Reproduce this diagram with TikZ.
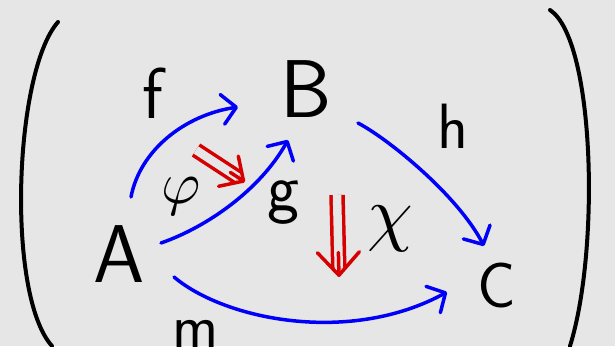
\documentclass[tikz,border=0pt]{standalone}
\usetikzlibrary{arrows.meta,calc}
\definecolor{bgc}{RGB}{230,230,230}
\definecolor{blu}{RGB}{0,0,250}
\definecolor{rd}{RGB}{214,0,0}
\begin{document}
\begin{tikzpicture}[x=1pt,y=-1pt,
  lbl/.style={inner sep=0pt, text=black},
  big/.style={font=\sffamily\fontsize{#1}{#1}\selectfont},
  mor/.style={draw=blu, line width=3.5pt, line cap=round,
    -{Straight Barb[length=14pt,width=30pt,round]}},
  cellline/.style={draw=rd, line width=3.5pt, double=bgc, double distance=8.5pt},
  cellhead/.style={draw=rd, line width=3.5pt, line cap=round,
    -{Straight Barb[length=18pt,width=36pt,round]}},
  paren/.style={draw=black, line width=4pt, line cap=round}]
\fill[bgc] (0,0) rectangle (615,346);
\useasboundingbox (0,0) rectangle (615,346);
% parentheses
\draw[paren] (58,22) .. controls (14,72) and (6,295) .. (52,346);
\draw[paren] (550,10) .. controls (595,40) and (600,250) .. (570,346);
% objects
\node[lbl, big=82] (A) at (119,254) {A};
\node[lbl, big=82] (B) at (306,89) {B};
\node[lbl, big=64] (C) at (497,286) {C};
% labels
\node[lbl, big=72] (f) at (153,93) {f};
\node[lbl, big=68] (g) at (283,203) {g};
\node[lbl, big=64] (h) at (453,126) {h};
\node[lbl, big=62] (m) at (196,334) {m};
\node[lbl, scale=6] (phi) at (181,196) {$\varphi$};
\node[lbl, scale=7.3] (chi) at (390,229) {$\chi$};
% morphisms
\draw[mor] ($(A)+(12,-57)$) .. controls (140,150) and (185,115) .. ($(B)+(-68,18)$);
\draw[mor] ($(A)+(42,-11)$) .. controls (207,227) and (260,190) .. ($(B)+(-18,51)$);
\draw[mor] ($(B)+(52,34)$) .. controls (390,140) and (458,196) .. ($(C)+(-13,-40)$);
\draw[mor] ($(A)+(55,23)$) .. controls (225,320) and (350,345) .. ($(C)+(-50,6)$);
% 2-cells
\coordinate (pS) at (196,150);
\coordinate (pT) at (245,182);
\coordinate (xS) at (337,195);
\coordinate (xT) at (339,277);
\draw[cellline] (pS) -- ($(pS)!0.86!(pT)$);
\draw[cellhead] ($(pS)!0.7!(pT)$) -- (pT);
\draw[cellline] (xS) -- ($(xS)!0.9!(xT)$);
\draw[cellhead, -{Straight Barb[length=23pt,width=42pt,round]}] ($(xS)!0.7!(xT)$) -- (xT);
\end{tikzpicture}
\end{document}
